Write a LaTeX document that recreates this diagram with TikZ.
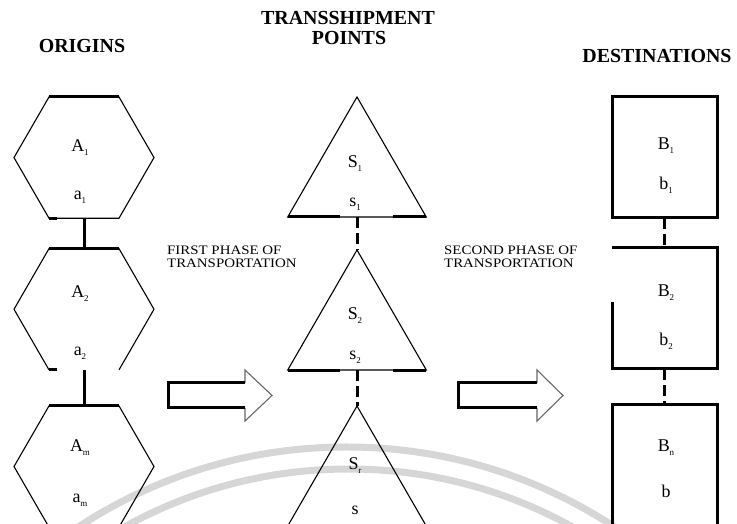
\documentclass[tikz,border=0pt]{standalone}
\usepackage{fontspec}
\setmainfont{Liberation Serif}
\usetikzlibrary{positioning}
\usetikzlibrary{shapes.geometric}
\tikzset{thn/.style={line width=1.1bp}}
\tikzset{thk/.style={line width=3bp}}
\tikzset{dsh/.style={line width=3bp, dash pattern=on 11bp off 5bp}}
\tikzset{hexa/.style={regular polygon, regular polygon sides=6, minimum size=140bp, inner sep=0pt, outer sep=0pt, thn}}
\tikzset{tri/.style={regular polygon, regular polygon sides=3, minimum size=160bp, inner sep=0pt, outer sep=0pt, thn}}
\tikzset{box/.style={rectangle, minimum width=105bp, minimum height=121bp, inner sep=0pt, outer sep=0pt, thk}}
\tikzset{lbl/.style={anchor=base, inner sep=0pt, font=\fontsize{18}{18}\selectfont}}
\tikzset{ttl/.style={anchor=base, inner sep=0pt, font=\fontsize{20}{20}\selectfont\bfseries}}
\tikzset{phs/.style={anchor=base west, inner sep=0pt, font=\fontsize{13}{13}\selectfont\addfontfeatures{FakeStretch=1.15}}}
\newcommand{\sbx}[1]{\raisebox{-3.5bp}{\fontsize{9}{9}\selectfont #1}}

\begin{document}
\begin{tikzpicture}[x=1bp, y=1bp]
\useasboundingbox (0,0) rectangle (737,524);

% watermark arcs
\draw[black!16, line width=7bp] (346.5,-412) circle (489);
\draw[black!16, line width=7bp] (348.5,-406.5) circle (461.5);

% titles
\node (tOrig) [ttl] at (82,471) {ORIGINS};
\node (tTrans) [ttl] at (348,499) {TRANSSHIPMENT};
\node (tPts) [ttl] at (349,479) {POINTS};
\node (tDest) [ttl] at (657,461) {DESTINATIONS};

% origins
\node (A1) [hexa, draw] at (84,366.4) {};
\node (A2) [hexa, below=30.4bp of A1] {};
\node (A3) [hexa, draw, below=36bp of A2] {};
\draw[thn] ([xshift=-35bp]A2.south) -- ([xshift=-70bp]A2.center) -- ([xshift=-35bp]A2.north)
  -- ([xshift=35bp]A2.north) -- ([xshift=70bp]A2.center) -- ([xshift=35bp]A2.south);
\draw[thk] ([xshift=-35bp]A1.north) -- ([xshift=35bp]A1.north);
\draw[thk] ([xshift=-35bp]A2.north) -- ([xshift=35bp]A2.north);
\draw[thk] ([xshift=-35bp]A3.north) -- ([xshift=35bp]A3.north);
\draw[thk] ([xshift=-35bp]A1.south) -- ([xshift=-27bp]A1.south);
\draw[thk] ([xshift=-35bp]A2.south) -- ([xshift=-27bp]A2.south);
\draw[thk] (A1.south) -- (A2.north);
\draw[thk] (A2.south) -- (A3.north);

\node (A1u) [lbl] at (80,372) {A\sbx{1}};
\node (A1d) [lbl] at (80,324) {a\sbx{1}};
\node (A2u) [lbl] at (80,226) {A\sbx{2}};
\node (A2d) [lbl] at (80,168) {a\sbx{2}};
\node (A3u) [lbl] at (80,72) {A\sbx{m}};
\node (A3d) [lbl] at (80,21) {a\sbx{m}};

% transshipment points
\node (S1) [tri, draw] at (357,347) {};
\node (S2) [tri, draw, below=33bp of S1] {};
\node (S3) [tri, draw, below=36bp of S2] {};
\draw[thk] (S1.corner 2) -- ([xshift=52bp]S1.corner 2);
\draw[thk] ([xshift=-33bp]S1.corner 3) -- (S1.corner 3);
\draw[thk] (S2.corner 2) -- ([xshift=52bp]S2.corner 2);
\draw[thk] ([xshift=-33bp]S2.corner 3) -- (S2.corner 3);
\draw[dsh] (S1.south) -- (S2.north);
\draw[dsh] (S2.south) -- (S3.north);

\node (S1u) [lbl] at (355,356) {S\sbx{1}};
\node (S1d) [lbl] at (355,317) {s\sbx{1}};
\node (S2u) [lbl] at (355,204) {S\sbx{2}};
\node (S2d) [lbl] at (355,164) {s\sbx{2}};
\node (S3u) [lbl] at (355,54) {S\sbx{r}};
\node (S3d) [lbl] at (355,9) {s};

% destinations
\node (B1) [box, draw] at (664.5,366.5) {};
\node (B2) [box, below=30bp of B1] {};
\node (B3) [box, draw, below=36bp of B2] {};
\draw[thk] ([yshift=6bp]B2.west) -- (B2.south west) -- (B2.south east) -- (B2.north east) -- (B2.north west);
\draw[dsh] (B1.south) -- (B2.north);
\draw[dsh] (B2.south) -- (B3.north);

\node (B1u) [lbl] at (666,374) {B\sbx{1}};
\node (B1d) [lbl] at (666,334) {b\sbx{1}};
\node (B2u) [lbl] at (666,227) {B\sbx{2}};
\node (B2d) [lbl] at (666,178) {b\sbx{2}};
\node (B3u) [lbl] at (666,72) {B\sbx{n}};
\node (B3d) [lbl] at (666,26) {b};

% phases
\node (ph1a) [phs] at (167,269) {FIRST PHASE OF};
\node (ph1b) [phs] at (167,256) {TRANSPORTATION};
\node (ph2a) [phs] at (444,269) {SECOND PHASE OF};
\node (ph2b) [phs] at (444,256) {TRANSPORTATION};

\draw[thn, black!60] (245,141) -- (245,154) -- (272,128.5) -- (245,103) -- (245,116);
\draw[thk] (245,141) -- (168,141) -- (168,116) -- (245,116);
\draw[thn, black!60] (537,141) -- (537,154) -- (563,128.5) -- (537,103) -- (537,116);
\draw[thk] (537,141) -- (458,141) -- (458,116) -- (537,116);
\end{tikzpicture}
\end{document}
